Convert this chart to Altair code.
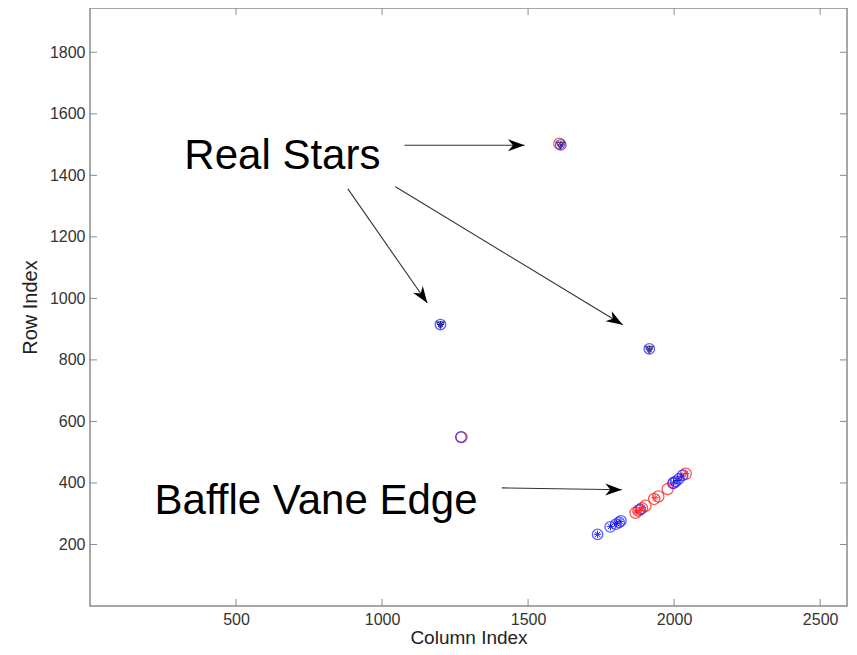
import math
import altair as alt
import pandas as pd

# ---------------- data ----------------
X_DOMAIN = [0, 2592]
Y_DOMAIN = [0, 1944]
W, H = 757, 598

x_ticks = [500, 1000, 1500, 2000, 2500]
y_ticks = [200, 400, 600, 800, 1000, 1200, 1400, 1600, 1800]

# open red circles
red_circle_x = [1607, 1272, 1868, 1878, 1890, 1902, 1932, 1946, 1978, 2000, 2040]
red_circle_y = [1503, 549, 303, 310, 318, 326, 348, 356, 380, 401, 430]
# open blue circles
blue_circle_x = [1612, 1200, 1915, 1270, 1738, 1781, 1801, 1812, 1818, 1884, 1996, 2006, 2016, 2029]
blue_circle_y = [1499, 915, 836, 549, 233, 257, 266, 272, 277, 314, 399, 405, 413, 425]
# red asterisks
red_star_x = [1870, 1880, 1892, 1935, 2040]
red_star_y = [305, 310, 320, 352, 431]
# blue asterisks
blue_star_x = [1612, 1200, 1915, 1738, 1782, 1803, 1815, 1998, 2010, 2026]
blue_star_y = [1499, 915, 835, 233, 258, 268, 275, 400, 408, 422]
# dark triangles (real stars)
tri_x = [1610, 1200, 1915]
tri_y = [1497, 913, 833]

# annotations
label_text = ["Real Stars", "Baffle Vane Edge"]
label_x = [323, 221]
label_y = [1421, 300]

arrow_x0 = [1077, 883, 1046, 1410]
arrow_y0 = [1498, 1356, 1363, 384]
arrow_x1 = [1488, 1155, 1824, 1821]
arrow_y1 = [1498, 985, 914, 378]

# ---------------- helpers ----------------
FONT = "Liberation Sans"
xs = alt.Scale(domain=X_DOMAIN, nice=False, zero=False)
ys = alt.Scale(domain=Y_DOMAIN, nice=False, zero=False)

ASTERISK = "M-1,0L1,0M0,-1L0,1M-0.7,-0.7L0.7,0.7M-0.7,0.7L0.7,-0.7"
ARROWHEAD = "M0,0L-1,-0.36L-0.7,0L-1,0.36Z"

x_axis = alt.Axis(title="Column Index", values=x_ticks, format="d", tickSize=0, domain=False,
                  grid=False, labelFont=FONT, labelFontSize=16, labelColor="#333333",
                  labelPadding=5, titleFont=FONT, titleFontSize=19, titleFontWeight="normal",
                  titleColor="#222222", titlePadding=1)
y_axis = alt.Axis(title="Row Index", values=y_ticks, format="d", tickSize=0, domain=False,
                  grid=False, labelFont=FONT, labelFontSize=16, labelColor="#333333",
                  labelPadding=5, titleFont=FONT, titleFontSize=20, titleFontWeight="normal",
                  titleColor="#222222", titlePadding=9)


def pts(xv, yv):
    return pd.DataFrame({"x": xv, "y": yv})


def xenc(field="x"):
    return alt.X(f"{field}:Q", scale=xs, axis=x_axis)


def yenc(field="y"):
    return alt.Y(f"{field}:Q", scale=ys, axis=y_axis)


red_c = alt.Chart(pts(red_circle_x, red_circle_y)).mark_point(
    shape="circle", filled=False, size=125, color="#ff1a1a", strokeWidth=1.3, opacity=0.75
).encode(x=xenc(), y=yenc())

blue_c = alt.Chart(pts(blue_circle_x, blue_circle_y)).mark_point(
    shape="circle", filled=False, size=110, color="#1a1aff", strokeWidth=1.3, opacity=0.7
).encode(x=xenc(), y=yenc())

red_s = alt.Chart(pts(red_star_x, red_star_y)).mark_point(
    shape=ASTERISK, filled=False, size=55, color="#ff1a1a", strokeWidth=1, opacity=0.85
).encode(x=xenc(), y=yenc())

blue_s = alt.Chart(pts(blue_star_x, blue_star_y)).mark_point(
    shape=ASTERISK, filled=False, size=55, color="#0c0ce6", strokeWidth=1, opacity=0.9
).encode(x=xenc(), y=yenc())

tri = alt.Chart(pts(tri_x, tri_y)).mark_point(
    shape="triangle-down", filled=False, size=55, color="#1c1c3c", strokeWidth=1.5
).encode(x=xenc(), y=yenc())

# arrows
sx = W / (X_DOMAIN[1] - X_DOMAIN[0])
sy = H / (Y_DOMAIN[1] - Y_DOMAIN[0])
angles = [math.degrees(math.atan2(-(y1 - y0) * sy, (x1 - x0) * sx)) % 360
          for x0, y0, x1, y1 in zip(arrow_x0, arrow_y0, arrow_x1, arrow_y1)]
arrows = pd.DataFrame({"x": arrow_x0, "y": arrow_y0, "x2": arrow_x1, "y2": arrow_y1, "ang": angles})

arrow_lines = alt.Chart(arrows).mark_rule(color="#333333", strokeWidth=1.1).encode(
    x=xenc(), y=yenc(), x2="x2:Q", y2="y2:Q")
arrow_heads = alt.Chart(arrows).mark_point(
    shape=ARROWHEAD, filled=True, size=1100, color="#000000", opacity=1
).encode(x=xenc("x2"), y=yenc("y2"), angle=alt.Angle("ang:Q", scale=None))

labels = alt.Chart(pd.DataFrame({"x": label_x, "y": label_y, "t": label_text})).mark_text(
    align="left", baseline="alphabetic", font=FONT, fontSize=42, color="#000000"
).encode(x=xenc(), y=yenc(), text="t:N")

# inward tick marks on all four sides
xt = pd.DataFrame({"x": x_ticks})
yt = pd.DataFrame({"y": y_ticks})
TC = "#8a8a8a"
tick_b = alt.Chart(xt).mark_rule(color=TC, strokeWidth=1).encode(
    x=xenc(), y=alt.value(H), y2=alt.value(H - 7))
tick_t = alt.Chart(xt).mark_rule(color=TC, strokeWidth=1).encode(
    x=xenc(), y=alt.value(0), y2=alt.value(7))
tick_l = alt.Chart(yt).mark_rule(color=TC, strokeWidth=1).encode(
    y=yenc(), x=alt.value(0), x2=alt.value(7))
tick_r = alt.Chart(yt).mark_rule(color=TC, strokeWidth=1).encode(
    y=yenc(), x=alt.value(W), x2=alt.value(W - 7))

chart = alt.layer(
    red_c, blue_c, red_s, blue_s, tri, tick_b, tick_t, tick_l, tick_r,
    arrow_lines, arrow_heads, labels
).properties(
    width=W, height=H,
    autosize=alt.AutoSizeParams(type="none"),
    padding={"left": 82, "top": 0, "right": 2, "bottom": 41},
    background="white",
).configure_view(stroke="#8a8a8a", strokeWidth=1.5)

chart.save("out.html", embed_options={"renderer": "svg", "actions": False})
